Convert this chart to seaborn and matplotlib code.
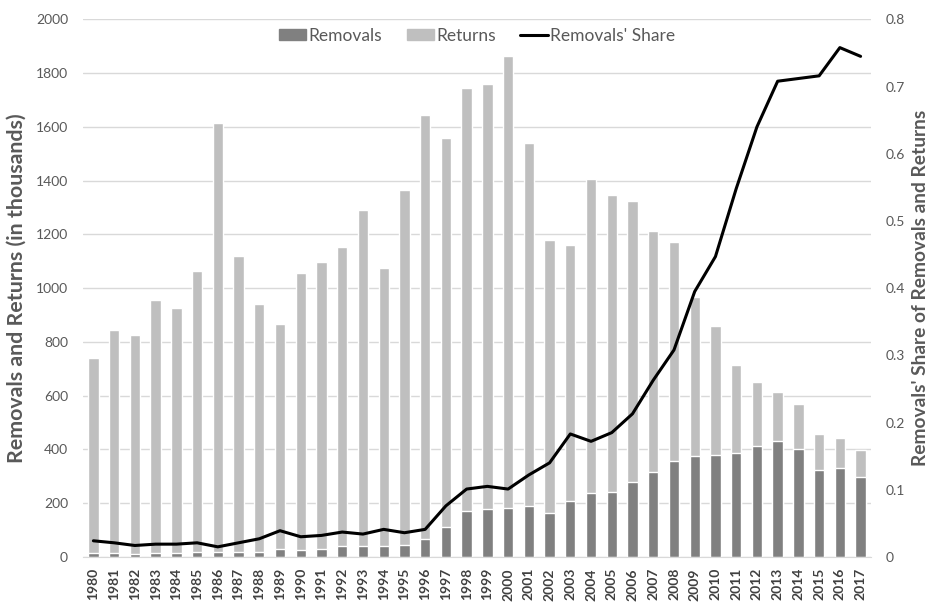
import numpy as np
import pandas as pd
import matplotlib
matplotlib.use("Agg")
import matplotlib.pyplot as plt
import seaborn as sns
from matplotlib.patches import Patch
from matplotlib.lines import Line2D

years = [str(y) for y in range(1980, 2018)]
removals = [15, 15, 10, 15, 15, 20, 20, 20, 20, 30, 25, 30, 40, 40, 40, 45, 65, 113, 172, 177,
            183, 188, 163, 209, 238, 243, 280, 315, 356, 376, 381, 386, 411, 432, 401, 325, 330, 296]
totals = [741, 843, 826, 955, 928, 1065, 1615, 1118, 940, 868, 1057, 1097, 1153, 1290, 1076, 1365,
          1645, 1558, 1745, 1760, 1862, 1540, 1178, 1160, 1405, 1345, 1325, 1212, 1172, 968, 858,
          715, 650, 613, 568, 457, 441, 396]
returns = [t - r for t, r in zip(totals, removals)]
share = [0.024, 0.021, 0.017, 0.019, 0.019, 0.021, 0.015, 0.021, 0.027, 0.039, 0.030, 0.032,
         0.037, 0.034, 0.041, 0.036, 0.041, 0.076, 0.101, 0.105, 0.101, 0.122, 0.140, 0.183,
         0.172, 0.185, 0.213, 0.263, 0.308, 0.395, 0.447, 0.548, 0.640, 0.708, 0.712, 0.716,
         0.758, 0.745]

df = pd.DataFrame({"year": years, "removals": removals, "returns": returns, "share": share})
df["total"] = df["removals"] + df["returns"]

sns.set_style("white")
plt.rcParams["font.family"] = ["Lato", "DejaVu Sans"]

txt = "#595959"
fig, ax = plt.subplots(figsize=(9.33, 6.06), dpi=100)
fig.subplots_adjust(left=0.089, right=0.9335, top=0.968, bottom=0.081)

# stacked bars: full total in light grey, removals drawn over it in dark grey
sns.barplot(data=df, x="year", y="total", color="#bfbfbf", width=0.5, saturation=1, ax=ax)
sns.barplot(data=df, x="year", y="removals", color="#808080", width=0.5, saturation=1, ax=ax)

ax.set_ylim(0, 2000)
ax.set_yticks(range(0, 2001, 200))
ax.yaxis.grid(True, color="#d9d9d9", linewidth=1)
ax.set_axisbelow(True)
ax.set_xlim(-0.5, len(years) - 0.5)
ax.set_xlabel("")
ylab = ax.set_ylabel("Removals and Returns (in thousands)", fontsize=12, fontweight="bold", color=txt)
ax.yaxis.set_label_coords(-0.071, 0.5)
ax.tick_params(axis="y", labelsize=10, labelcolor=txt, length=0, pad=10.8)
ax.tick_params(axis="x", labelsize=10, labelcolor="#404040", length=0, rotation=90, pad=8)
for lab in ax.get_xticklabels():
    lab.set_fontweight("bold")
for s in ["top", "left", "right"]:
    ax.spines[s].set_visible(False)
ax.spines["bottom"].set_color("#d9d9d9")

ax2 = ax.twinx()
sns.lineplot(x=np.arange(len(years)), y=df["share"], color="black", linewidth=2.2, ax=ax2)
ax2.set_ylim(0, 0.8)
ax2.set_yticks(np.arange(0, 0.81, 0.1))
ax2.set_yticklabels(["0"] + [f"{v:.1f}" for v in np.arange(0.1, 0.81, 0.1)])
ylab2 = ax2.set_ylabel("Removals' Share of Removals and Returns", fontsize=12, fontweight="bold",
                       color=txt)
ax2.yaxis.set_label_coords(1.052, 0.5)
ax2.tick_params(axis="y", labelsize=10, labelcolor=txt, length=0, pad=10.8)
for s in ["top", "left", "right", "bottom"]:
    ax2.spines[s].set_visible(False)

# scale the axis titles to the length they have in the reference
fig.canvas.draw()
for t, target in [(ylab, 348), (ylab2, 355)]:
    h = t.get_window_extent().height
    t.set_fontsize(t.get_fontsize() * target / h)

handles = [Patch(color="#808080"), Patch(color="#bfbfbf"), Line2D([], [], color="black", linewidth=2.2)]
ax.legend(handles, ["Removals", "Returns", "Removals' Share"], loc="center",
          bbox_to_anchor=(0.5, 0.970), ncol=3, frameon=False, fontsize=12.5, labelcolor=txt,
          handlelength=1.6, handleheight=0.6, handletextpad=0.12, columnspacing=1.4)

fig.savefig("out.png", dpi=100)
